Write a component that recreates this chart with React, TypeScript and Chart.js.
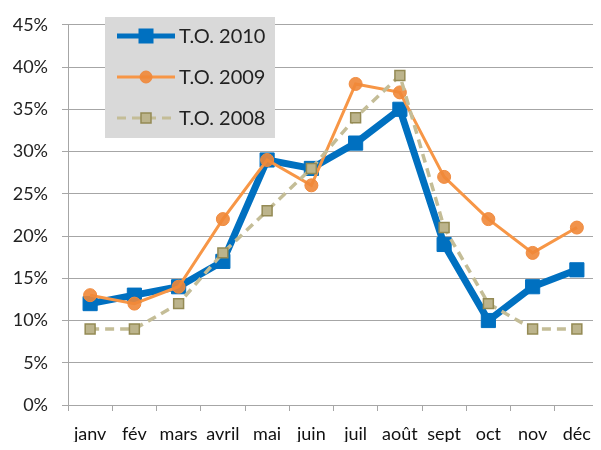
import React, { useEffect, useRef } from "react";
import { Chart, registerables } from "chart.js";

Chart.register(...registerables);

const months = ["janv", "fév", "mars", "avril", "mai", "juin", "juil", "août", "sept", "oct", "nov", "déc"];
const yTicks = [0, 5, 10, 15, 20, 25, 30, 35, 40, 45];
const to2010 = [12, 13, 14, 17, 29, 28, 31, 35, 19, 10, 14, 16];
const to2009 = [13, 12, 14, 22, 29, 26, 38, 37, 27, 22, 18, 21];
const to2008 = [9, 9, 12, 18, 23, 28, 34, 39, 21, 12, 9, 9];
const seriesLabels = ["T.O. 2010", "T.O. 2009", "T.O. 2008"];

const FONT = "Lato, 'Liberation Sans', sans-serif";

const legendPlugin = {
  id: "boxLegend",
  afterDraw(chart: any) {
    const ctx = chart.ctx;
    const x0 = 105, y0 = 17, w = 170, h = 121;
    ctx.save();
    ctx.fillStyle = "#D9D9D9";
    ctx.fillRect(x0, y0, w, h);
    const rows = [36, 77, 118];
    chart.data.datasets.forEach((ds: any, i: number) => {
      const y = rows[i];
      ctx.save();
      ctx.strokeStyle = ds.borderColor;
      ctx.lineWidth = i === 0 ? 5 : 3;
      ctx.setLineDash(ds.borderDash || []);
      ctx.beginPath();
      ctx.moveTo(117, y);
      ctx.lineTo(175, y);
      ctx.stroke();
      ctx.setLineDash([]);
      ctx.fillStyle = ds.pointBackgroundColor;
      ctx.strokeStyle = ds.pointBorderColor;
      ctx.lineWidth = ds.pointBorderWidth;
      if (ds.pointStyle === "circle") {
        ctx.beginPath();
        ctx.arc(146, y, 6, 0, Math.PI * 2);
        ctx.fill();
        ctx.stroke();
      } else {
        const s = i === 0 ? 14 : 10;
        ctx.fillRect(146 - s / 2, y - s / 2, s, s);
        ctx.strokeRect(146 - s / 2, y - s / 2, s, s);
      }
      ctx.restore();
      ctx.fillStyle = "#222";
      ctx.font = `20px ${FONT}`;
      ctx.textBaseline = "middle";
      ctx.textAlign = "left";
      ctx.fillText(ds.label, 179, y + 1);
    });
    ctx.restore();
  },
};

export default function App() {
  const ref = useRef<HTMLCanvasElement>(null);
  useEffect(() => {
    const chart = new Chart(ref.current!, {
      type: "line",
      data: {
        labels: months,
        datasets: [
          {
            label: seriesLabels[0],
            data: to2010,
            borderColor: "#0070C0",
            backgroundColor: "#0070C0",
            borderWidth: 7,
            pointStyle: "rect",
            pointRadius: 10,
            pointBackgroundColor: "#0070C0",
            pointBorderColor: "#0070C0",
            pointBorderWidth: 1,
            order: 3,
          } as any,
          {
            label: seriesLabels[1],
            data: to2009,
            borderColor: "#F79646",
            backgroundColor: "#F79646",
            borderWidth: 3,
            pointStyle: "circle",
            pointRadius: 6.5,
            pointBackgroundColor: "rgba(240,135,55,0.9)",
            pointBorderColor: "#F08A3E",
            pointBorderWidth: 1,
            order: 2,
          },
          {
            label: seriesLabels[2],
            data: to2008,
            borderColor: "#C4BD97",
            backgroundColor: "#C4BD97",
            borderWidth: 3.5,
            borderDash: [9, 6],
            pointStyle: "rect",
            pointRadius: 7,
            pointBackgroundColor: "#BCB48C",
            pointBorderColor: "#948A54",
            pointBorderWidth: 1.5,
            order: 1,
          },
        ],
      },
      options: {
        animation: false,
        responsive: false,
        maintainAspectRatio: false,
        layout: { padding: { top: 22, right: 7, left: 0, bottom: 0 } },
        plugins: { legend: { display: false }, tooltip: { enabled: false } },
        scales: {
          x: {
            offset: true,
            grid: { display: true, drawOnChartArea: false, drawTicks: true, tickLength: 6, offset: true, color: "#A6A6A6" },
            border: { color: "#A6A6A6", width: 1 },
            ticks: { color: "#111", font: { family: FONT, size: 18 }, padding: 12, maxRotation: 0, autoSkip: false },
            afterFit: (s: any) => { s.height = 45; },
          },
          y: {
            min: 0,
            max: 45,
            afterBuildTicks: (s: any) => { s.ticks = yTicks.map((v) => ({ value: v })); },
            grid: { color: "#A6A6A6", tickLength: 6, lineWidth: 1 },
            border: { color: "#A6A6A6", width: 1 },
            ticks: { color: "#222", font: { family: FONT, size: 18 }, padding: 14, callback: (v: any) => `${v}%` },
            afterFit: (s: any) => { s.width = 68; },
          },
        },
      },
      plugins: [legendPlugin],
    });
    return () => chart.destroy();
  }, []);
  return (
    <div style={{ width: 601, height: 450, overflow: "hidden", margin: -8, position: "relative", background: "#fff" }}>
      <canvas ref={ref} width={610} height={450} style={{ width: 610, height: 450, display: "block" }} />
    </div>
  );
}
